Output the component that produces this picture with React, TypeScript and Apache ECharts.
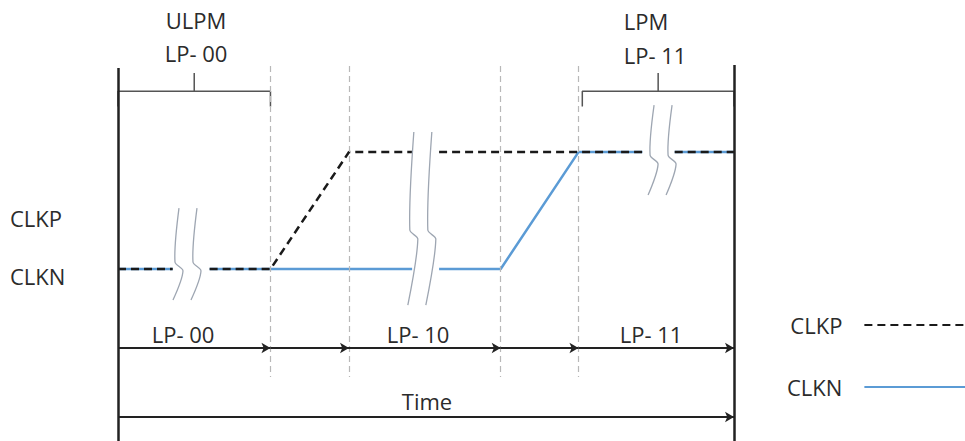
import React, { useEffect, useRef } from "react";
import * as echarts from "echarts";

// ---- data ----
const seriesNames = ["CLKP", "CLKN"];
// state boundaries along the time axis
const boundaries = [0, 1.98, 3.0, 4.97, 5.98, 8];
// signal corner points (time, level 0 = low, 1 = high)
const clkpTime = [0, 1.98, 3.0, 8];
const clkpLevel = [0, 0, 1, 1];
const clknTime = [0, 4.97, 5.98, 8];
const clknLevel = [0, 0, 1, 1];
// time-axis breaks (gap start / gap end)
const gapStart = [0.71, 3.82, 6.81];
const gapEnd = [1.19, 4.17, 7.23];
// break marker: time, top level, bend level, bottom level
const breakTime = [0.74, 3.79, 6.91];
const breakTop = [0.521, 1.171, 1.402];
const breakBend = [0.06, 0.333, 0.974];
const breakBottom = [-0.265, -0.308, 0.632];
// labels
const stateLabels = ["LP- 00", "LP- 10", "LP- 11"];
const signalLabels = ["CLKP", "CLKN"];
const modeLabels = [["ULPM", "LP- 00"], ["LPM", "LP- 11"]];
const axisTitle = "Time";

// ---- layout (levels in axis units) ----
const Y_MIN = -1.47;
const Y_MAX = 2.3;
const GUIDE_TOP = 1.735;
const GUIDE_BOTTOM = -0.923;
const ARROW_ROW = -0.675;
const TIME_ROW = -1.265;
const BRACKET_Y = 1.52;
const BRACKET_END = 1.39;
const BRACKET_TICK = 1.675;

const FONT = "'Open Sans', 'Liberation Sans', sans-serif";
const TEXT = "#2b2b2b";

function levelAt(xs: number[], ls: number[], x: number) {
  for (let i = 0; i < xs.length - 1; i++) {
    if (x >= xs[i] && x <= xs[i + 1]) {
      const t = (x - xs[i]) / (xs[i + 1] - xs[i]);
      return ls[i] + t * (ls[i + 1] - ls[i]);
    }
  }
  return ls[ls.length - 1];
}

function buildSignal(xs: number[], ls: number[]) {
  const all = Array.from(new Set([...xs, ...gapStart, ...gapEnd])).sort((a, b) => a - b);
  const pts: any[] = [];
  for (const x of all) {
    pts.push([x, levelAt(xs, ls, x)]);
    if (gapStart.includes(x)) pts.push([x, "-"]);
  }
  return pts;
}

export default function App() {
  const ref = useRef<HTMLDivElement>(null);

  useEffect(() => {
    document.body.style.margin = "0";
    const chart = echarts.init(ref.current!, null, { renderer: "svg" });

    const n = boundaries.length;
    const guideLines = boundaries.slice(1, n - 1).map((b) => [
      { coord: [b, GUIDE_TOP] },
      { coord: [b, GUIDE_BOTTOM] },
    ]);
    const stateArrows = boundaries.slice(0, n - 1).map((b, i) => [
      { coord: [b, ARROW_ROW] },
      { coord: [boundaries[i + 1], ARROW_ROW] },
    ]);

    const bracketData: any[] = [];
    const bracketSpans = [
      [boundaries[0], boundaries[1]],
      [boundaries[4] + 0.05, boundaries[5]],
    ];
    bracketSpans.forEach(([s, e]) => {
      const mid = (s + e) / 2;
      bracketData.push([s, BRACKET_END], [s, BRACKET_Y], [e, BRACKET_Y], [e, BRACKET_END], [e, "-"]);
      bracketData.push([mid, BRACKET_Y], [mid, BRACKET_TICK], [mid, "-"]);
    });

    const breakData = breakTime.map((t, i) => [t, breakTop[i], breakBend[i], breakBottom[i]]);

    const texts: any[] = [];
    const addText = (text: string, x: number, y: number, align = "center") =>
      texts.push({
        type: "text",
        x,
        y,
        silent: true,
        style: {
          text,
          fill: TEXT,
          font: `22px ${FONT}`,
          textAlign: align,
          textVerticalAlign: "middle",
        },
      });
    addText(modeLabels[0][0], 196, 20);
    addText(modeLabels[0][1], 196, 53);
    addText(modeLabels[1][0], 646, 21);
    addText(modeLabels[1][1], 655, 55);
    addText(signalLabels[0], 10, 218, "left");
    addText(signalLabels[1], 10, 276, "left");
    addText(stateLabels[0], 183, 334);
    addText(stateLabels[1], 418, 334);
    addText(stateLabels[2], 651, 334);
    addText(axisTitle, 427, 401);

    chart.setOption({
      animation: false,
      grid: { left: 118, right: 231, top: 0, bottom: 0 },
      xAxis: { type: "value", min: 0, max: 8, show: false },
      yAxis: { type: "value", min: Y_MIN, max: Y_MAX, show: false },
      legend: {
        data: seriesNames,
        orient: "vertical",
        left: 782,
        top: 309,
        align: "right",
        itemWidth: 103,
        itemHeight: 14,
        itemGap: 40,
        selectedMode: false,
        itemStyle: { opacity: 0, color: "rgba(0,0,0,0)", borderWidth: 0 },
        textStyle: {
          fontFamily: FONT,
          fontSize: 22,
          color: TEXT,
          padding: [0, 17, 0, 0],
        },
      },
      graphic: texts,
      series: [
        {
          name: "guides",
          type: "line",
          data: [],
          silent: true,
          markLine: {
            silent: true,
            symbol: ["none", "none"],
            label: { show: false },
            lineStyle: { color: "#b8b8b8", width: 1.2, type: [6, 4] },
            data: guideLines,
          },
        },
        {
          name: "frame",
          type: "line",
          data: [],
          silent: true,
          markLine: {
            silent: true,
            symbol: ["none", "none"],
            label: { show: false },
            lineStyle: { color: "#222222", width: 2.5, type: "solid" },
            data: [
              [{ coord: [boundaries[0], 1.718] }, { coord: [boundaries[0], Y_MIN] }],
              [{ coord: [boundaries[n - 1], 1.744] }, { coord: [boundaries[n - 1], Y_MIN] }],
            ],
          },
        },
        {
          name: "arrows",
          type: "line",
          data: [],
          silent: true,
          markLine: {
            silent: true,
            symbol: ["none", "arrow"],
            symbolSize: [8, 9],
            label: { show: false },
            lineStyle: { color: "#222222", width: 2, type: "solid" },
            data: [
              ...stateArrows,
              [{ coord: [boundaries[0], TIME_ROW] }, { coord: [boundaries[n - 1], TIME_ROW] }],
            ],
          },
        },
        {
          name: "brackets",
          type: "line",
          data: bracketData,
          symbol: "none",
          silent: true,
          lineStyle: { color: "#555555", width: 1.5 },
        },
        {
          name: "CLKN",
          type: "line",
          data: buildSignal(clknTime, clknLevel),
          symbol: "none",
          lineStyle: { color: "#5b9bd5", width: 2.5 },
          itemStyle: { color: "#5b9bd5" },
          z: 3,
        },
        {
          name: "CLKP",
          type: "line",
          data: buildSignal(clkpTime, clkpLevel),
          symbol: "none",
          lineStyle: { color: "#1a1a1a", width: 2.5, type: [8, 5] },
          itemStyle: { color: "#1a1a1a" },
          z: 4,
        },
        {
          name: "breaks",
          type: "custom",
          silent: true,
          data: breakData,
          z: 5,
          renderItem: (params: any, api: any) => {
            const x = api.value(0);
            const t = api.coord([x, api.value(1)]);
            const b = api.coord([x, api.value(2)]);
            const o = api.coord([x, api.value(3)]);
            const mk = (dx: number) => ({
              type: "polyline",
              shape: {
                points: [
                  [t[0] + 4 + dx, t[1]],
                  [b[0] + dx, b[1]],
                  [b[0] + 8 + dx, b[1] + 9],
                  [o[0] - 2 + dx, o[1]],
                ],
                smooth: 0.3,
              },
              style: { stroke: "#9ea6b2", lineWidth: 1.3, fill: "none" },
            });
            return { type: "group", children: [mk(0), mk(18)] };
          },
        },
      ],
    });

    return () => chart.dispose();
  }, []);

  return <div ref={ref} style={{ width: 965, height: 441 }} />;
}
